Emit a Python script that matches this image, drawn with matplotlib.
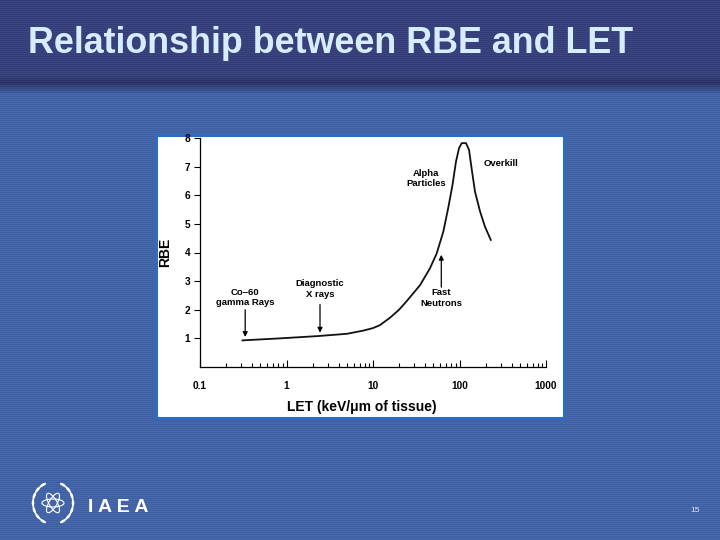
import numpy as np
import matplotlib
matplotlib.use("Agg")
import matplotlib.pyplot as plt
from matplotlib.patches import Rectangle, Ellipse, Arc

plt.rcParams['font.family'] = ['Liberation Sans', 'DejaVu Sans']

# data (LET in keV/um, RBE)
let_vals = [0.31, 0.84, 2.3, 5.0, 7.7, 10, 12, 15.7, 20, 24.5, 35, 45.6, 54.5,
            65, 74, 83, 91, 98.7, 106, 119, 129, 138, 151, 173, 197, 230]
rbe_vals = [0.93, 1.0, 1.08, 1.16, 1.27, 1.36, 1.46, 1.72, 2.0, 2.3, 2.86,
            3.45, 3.97, 4.73, 5.55, 6.36, 7.17, 7.64, 7.82, 7.82, 7.58, 6.94,
            6.13, 5.43, 4.9, 4.44]

x_ticks = [0.1, 1, 10, 100, 1000]
x_tick_labels = ["0.1", "1", "10", "100", "1000"]
y_ticks = [1, 2, 3, 4, 5, 6, 7, 8]

# (text, x, y, arrow start y, arrow end y)
arrow_notes = [
    ("Co\u201360\ngamma Rays", 0.333, 2.43, 2.0, 1.05),
    ("Diagnostic\nX rays", 2.44, 2.72, 2.18, 1.2),
    ("Fast\nNeutrons", 61.6, 2.41, 2.79, 3.92),
]
plain_notes = [
    ("Alpha\nParticles", 41.3, 6.58, "center"),
    ("Overkill", 188, 7.12, "left"),
]

fig = plt.figure(figsize=(7.2, 5.4), dpi=100)

# slide background in pixel coordinates
bg = fig.add_axes([0, 0, 1, 1], zorder=-1)
bg.set_xlim(0, 720)
bg.set_ylim(540, 0)
bg.axis("off")
title_col = np.array([0x37, 0x40, 0x7b], float)
dark_col = np.array([0x2a, 0x32, 0x66], float)
body_col = np.array([0x43, 0x63, 0xa7], float)
rows = np.zeros((540, 1, 3))
for r in range(540):
    if r < 76:
        c = title_col
    elif r < 82:
        t = (r - 76) / 6
        c = title_col * (1 - t) + dark_col * t
    elif r < 94:
        t = (r - 82) / 12
        c = dark_col * (1 - t) + body_col * t
    else:
        c = body_col
    c = c + (4 if r % 2 else -3)
    rows[r, 0] = np.clip(c, 0, 255) / 255
bg.imshow(rows, extent=[0, 720, 540, 0], aspect="auto", interpolation="nearest")

bg.add_patch(Rectangle((156, 135), 408, 283, facecolor="white",
                       edgecolor="#2e6cc4", lw=2.2))

fig.text(28, 540 - 53, "Relationship between RBE and LET", transform=None,
         fontsize=25.8, fontweight="bold", color="#d6ecff", va="baseline")
fig.text(88 / 720, 1 - 512 / 540, "I A E A", fontsize=14, fontweight="bold",
         color="white", va="baseline")
fig.text(695 / 720, 1 - 511 / 540, "15", fontsize=6, color="#dde6f5",
         ha="center", va="center")

# simple emblem: atom inside a laurel wreath
cx, cy = 53, 503
for ang in (0, 60, 120):
    bg.add_patch(Ellipse((cx, cy), 22, 8, angle=ang, fill=False,
                         edgecolor="white", lw=0.8))
bg.add_patch(Arc((cx, cy), 40, 42, theta1=110, theta2=250, edgecolor="white", lw=1.2))
bg.add_patch(Arc((cx, cy), 40, 42, theta1=-70, theta2=70, edgecolor="white", lw=1.2))
for deg in [120, 140, 160, 180, 200, 220, 240]:
    for d in (deg, 180 - deg):
        a = np.deg2rad(d)
        bg.add_patch(Ellipse((cx + 20 * np.cos(a), cy - 21 * np.sin(a)), 6, 2.6,
                             angle=-(d + 90), color="white", lw=0))

# chart
ax = fig.add_axes([200 / 720, 1 - 367 / 540, 346 / 720, 229 / 540])
ax.set_facecolor("none")
ax.plot(let_vals, rbe_vals, color="#111111", lw=1.3, solid_joinstyle="round")
ax.set_xscale("log")
ax.set_xlim(0.1, 1000)
ax.set_ylim(0, 8)
for s in ("top", "right"):
    ax.spines[s].set_visible(False)
for s in ("left", "bottom"):
    ax.spines[s].set_linewidth(0.9)
ax.set_xticks(x_ticks)
ax.set_xticklabels(x_tick_labels)
ax.set_yticks(y_ticks)
ax.tick_params(axis="x", which="major", direction="in", length=5, width=0.8,
               pad=10, labelsize=7.3)
ax.tick_params(axis="x", which="minor", direction="in", length=3, width=0.8)
ax.tick_params(axis="y", direction="out", length=4, width=0.8, pad=3,
               labelsize=7.3)
for lab in ax.get_xticklabels() + ax.get_yticklabels():
    lab.set_fontweight("bold")

ax.set_xlabel("LET (keV/\u03bcm of tissue)", fontsize=10, fontweight="bold",
              va="center")
ax.xaxis.set_label_coords(0.468, -0.175)
ax.set_ylabel("RBE", fontsize=10, fontweight="bold", va="center")
ax.yaxis.set_label_coords(-0.101, 0.5)

for txt, x, y, y0, y1 in arrow_notes:
    ax.text(x, y, txt, ha="center", va="center", fontsize=6.8,
            fontweight="bold", linespacing=1.2)
    ax.annotate("", xy=(x, y1), xytext=(x, y0),
                arrowprops=dict(arrowstyle="-|>", lw=0.9, color="black",
                                mutation_scale=7, shrinkA=0, shrinkB=0))
for txt, x, y, ha in plain_notes:
    ax.text(x, y, txt, ha=ha, va="center", fontsize=6.8, fontweight="bold",
            linespacing=1.2)

fig.savefig("out.png", dpi=100)
